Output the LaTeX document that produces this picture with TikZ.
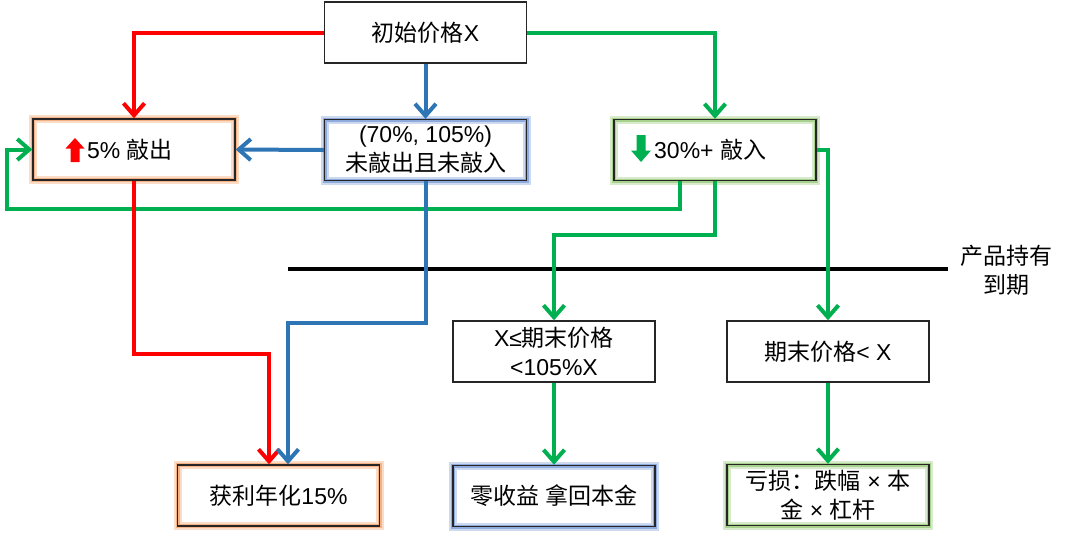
\documentclass[tikz,border=0pt]{standalone}
\usepackage{fontspec}
\setmainfont{Liberation Sans}
\newfontfamily\cjk{Noto Sans CJK SC}
\usetikzlibrary{arrows.meta}
\newcommand\zh[1]{{\cjk #1}}
\newcommand\myfs{\fontsize{23}{29}\selectfont}
\definecolor{cred}{RGB}{255,0,0}
\definecolor{cblue}{RGB}{46,117,182}
\definecolor{cgreen}{RGB}{0,176,80}
\definecolor{gorange}{RGB}{244,177,131}
\definecolor{gblue}{RGB}{143,170,220}
\definecolor{ggreen}{RGB}{169,209,142}
\tikzset{
  box/.style={draw=black!85, line width=1.4pt, fill=white, minimum width=202pt,
    minimum height=61pt, inner sep=0pt, align=center, font=\myfs},
  glowbox/.style={box, fill=none, preaction={fill=white},
    preaction={draw=#1!45, line width=8pt},
    preaction={draw=#1, line width=4pt}},
  lbl/.style={inner sep=0pt, align=center, font=\myfs},
  conn/.style={line width=4pt, -{Straight Barb[length=12pt,width=21pt]}},
}
\begin{document}
\begin{tikzpicture}[x=1pt,y=-1pt]
\useasboundingbox (0,0) rectangle (1080,542);
% horizon line
\coordinate (hl) at (288,269);
\coordinate (hr) at (948,269);
\draw[line width=4.5pt] (hl) -- (hr);
\node[lbl] (mat) at (1006,270) {\zh{产品持有}\\\zh{到期}};

% boxes
\node[box] (top) at (425.5,32.5) {\zh{初始价格}X};
\node[glowbox=gorange] (up5) at (134,149.5) {};
\node[glowbox=gblue] (mid) at (425.5,150) {(70\%, 105\%)\\\zh{未敲出且未敲入}};
\node[glowbox=ggreen] (dn30) at (715,150) {};
\node[box] (eq) at (554,351.5) {X≤\zh{期末价格}\\<105\%X};
\node[box] (lt) at (828,351.5) {\zh{期末价格}< X};
\node[glowbox=gorange] (win) at (278.5,495.5) {\zh{获利年化}15\%};
\node[glowbox=gblue] (zero) at (554,496) {\zh{零收益 拿回本金}};
\node[glowbox=ggreen] (loss) at (828,495) {\zh{亏损：跌幅} × \zh{本}\\\zh{金} × \zh{杠杆}};

% labels with icons
\node[lbl, anchor=west] (t5) at (87,150) {5\% \zh{敲出}};
\fill[cred] (75,138) -- (84.5,148.5) -- (79.5,148.5) -- (79.5,162) -- (70.5,162)
  -- (70.5,148.5) -- (65.5,148.5) -- cycle;
\node[lbl, anchor=west] (t30) at (654,150) {30\%+ \zh{敲入}};
\fill[cgreen] (641,162) -- (651,150.5) -- (645.5,150.5) -- (645.5,135) -- (636.5,135)
  -- (636.5,150.5) -- (631,150.5) -- cycle;

% connectors
\draw[conn, cred] (top.west) -| (up5.north);
\draw[conn, cblue] (top.south) -- (mid.north);
\draw[conn, cblue] (mid.west) -- (up5.east);
\draw[conn, cgreen] (top.east) -| (dn30.north);
\draw[conn, cgreen] (dn30.east) -| (lt.north);
\coordinate (gl) at (7,209);
\draw[conn, cgreen] ([xshift=-35pt]dn30.south) |- (gl) |- (up5.west);
\draw[conn, cgreen] (dn30.south) -- ++(0,54) -| (eq.north);
\draw[conn, cgreen] (eq.south) -- (zero.north);
\draw[conn, cgreen] (lt.south) -- (loss.north);
\draw[conn, cred] (up5.south) -- ++(0,173.5) -| ([xshift=-9.5pt]win.north);
\draw[conn, cblue] (mid.south) -- ++(0,142) -| ([xshift=9.5pt]win.north);
\end{tikzpicture}
\end{document}
